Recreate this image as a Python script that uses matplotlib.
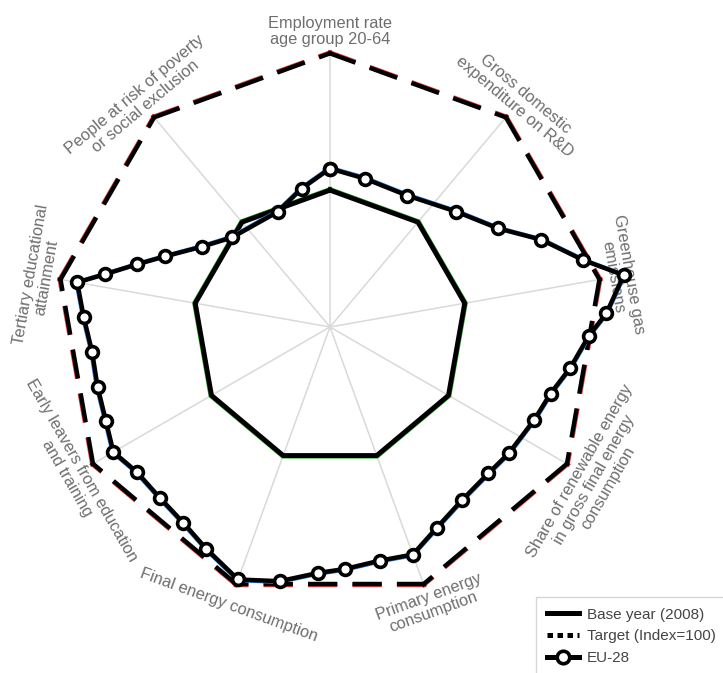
import numpy as np
import matplotlib
matplotlib.use("Agg")
import matplotlib.pyplot as plt
from matplotlib.lines import Line2D

plt.rcParams['font.family'] = ['Liberation Sans', 'DejaVu Sans']

# radar axes, clockwise from the top
categories = [
    "Employment rate\nage group 20-64",
    "Gross domestic\nexpenditure on R&D",
    "Greenhouse gas\nemissions",
    "Share of renewable energy\nin gross final energy\nconsumption",
    "Primary energy\nconsumption",
    "Final energy consumption",
    "Early leavers from education\nand training",
    "Tertiary educational\nattainment",
    "People at risk of poverty\nor social exclusion",
]
base_year = [50, 50, 50, 50, 50, 50, 50, 50, 50]
target = [100, 100, 100, 100, 100, 100, 100, 100, 100]

# EU-28 path: position along the category axis (0..9) and index value
eu28_pos = [0.0, 0.33, 0.76, 1.19, 1.49, 1.69, 1.88, 2.0, 2.18, 2.3,
            2.49, 2.67, 2.86, 3.13, 3.32, 3.57, 3.8, 4.0, 4.2, 4.41,
            4.57, 4.78, 5.0, 5.23, 5.42, 5.62, 5.83, 6.0, 6.18, 6.39,
            6.6, 6.81, 7.0, 7.08, 7.2, 7.33, 7.55, 7.81, 8.39, 8.71]
eu28_val = [57.9, 55.7, 55.7, 62.5, 71.2, 83.6, 95.7, 109.0, 101.1, 94.6,
            89.1, 84.2, 82.0, 80.0, 78.8, 79.6, 83.1, 88.5, 87.3, 88.6,
            90.0, 94.7, 98.2, 92.8, 89.4, 88.1, 88.3, 91.4, 88.8, 87.7,
            87.4, 90.1, 93.8, 84.4, 74.1, 65.5, 55.3, 48.5, 46.2, 51.6]

n = len(categories)


def to_theta(pos):
    return 2 * np.pi * np.asarray(pos, dtype=float) / n


fig = plt.figure(figsize=(7.23, 6.73), dpi=100)
ax = fig.add_axes([0.0401, 0.0669, 0.8326, 0.8945], projection='polar')
ax.set_theta_offset(np.pi / 2)
ax.set_theta_direction(-1)
ax.set_ylim(0, 110)
ax.set_xticks([])
ax.set_yticks([])
ax.grid(False)
ax.spines['polar'].set_visible(False)
ax.patch.set_alpha(0)

axis_theta = to_theta(range(n))
closed_theta = np.append(axis_theta, 2 * np.pi)
shift = 0.3  # coloured line peeks out just outside the black one

# spokes
for t in axis_theta:
    ax.plot([t, t], [0, 100], color='#d9d9d9', lw=1.1, zorder=1)

# target: one dashed edge at a time so the red and black dashes stay in step
tgt = np.append(target, target[0])
dash = (0, (5.6, 4.4))
for i in range(n):
    th = closed_theta[i:i + 2]
    r = tgt[i:i + 2]
    ax.plot(th, r + shift, color='#e04040', lw=3.2, ls=dash,
            dash_capstyle='projecting', zorder=2)
    ax.plot(th, r, color='black', lw=3.2, ls=dash,
            dash_capstyle='projecting', zorder=3)

base = np.append(base_year, base_year[0])
ax.plot(closed_theta, base + shift, color='#33aa33', lw=3.3, zorder=2)
ax.plot(closed_theta, base, color='black', lw=3.5, zorder=3)

eu_theta = np.append(to_theta(eu28_pos), 2 * np.pi)
eu_vals = np.append(eu28_val, eu28_val[0])
ax.plot(eu_theta, eu_vals + shift, color='#2f7ed8', lw=3.0, zorder=4)
ax.plot(eu_theta, eu_vals, color='black', lw=3.2, marker='o', ms=8.5,
        mfc='white', mec='black', mew=2.6, zorder=5, clip_on=False)

# axis labels, rotated along the tangent
for i, lab in enumerate(categories):
    ang = 90 - 360.0 * i / n
    rot = (ang % 180) - 90
    r_lab = 111.5 if lab.count("\n") > 1 else 108.0
    ax.text(axis_theta[i], r_lab, lab, rotation=rot, rotation_mode='anchor',
            ha='center', va='center', fontsize=11.8, color='#6e6e6e',
            linespacing=1.1, clip_on=False)

handles = [
    Line2D([], [], color='black', lw=3.6),
    Line2D([], [], color='black', lw=3.6, ls=(0, (1.1, 0.9))),
    Line2D([], [], color='black', lw=3.6, marker='o', ms=9, mfc='white', mew=2.6),
]
leg = fig.legend(handles, ["Base year (2008)", "Target (Index=100)", "EU-28"],
                 loc='upper left', bbox_to_anchor=(0.7414, 0.113),
                 bbox_transform=fig.transFigure, fontsize=11, frameon=True,
                 fancybox=False, handlelength=2.1, borderpad=0.7,
                 borderaxespad=0, labelspacing=0.5, handletextpad=0.55)
leg.get_frame().set_edgecolor('#cccccc')
leg.get_frame().set_linewidth(1.0)
for t in leg.get_texts():
    t.set_color('#444444')

fig.savefig("out.png", dpi=100)
